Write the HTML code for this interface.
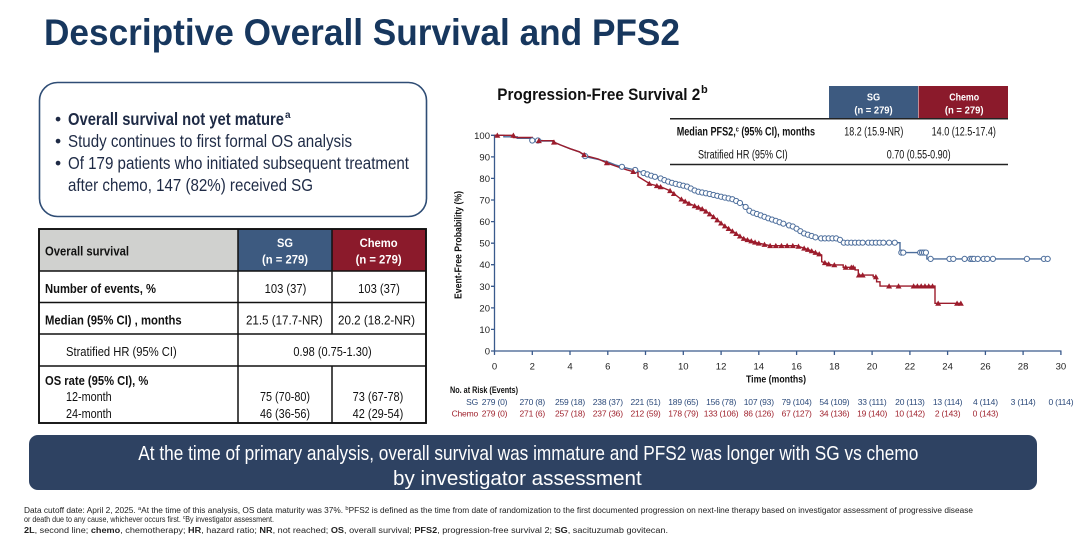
<!DOCTYPE html>
<html><head><meta charset="utf-8"><style>html,body{margin:0;padding:0;background:#fff}svg{display:block}text{font-family:"Liberation Sans",Arial,sans-serif}</style></head><body>
<svg id="s" xmlns="http://www.w3.org/2000/svg" width="1080" height="538" viewBox="0 0 1080 538">
<rect width="1080" height="538" fill="#fff"/>
<text x="44" y="45" font-size="37.5" font-weight="bold" fill="#17375e" textLength="636" lengthAdjust="spacingAndGlyphs">Descriptive Overall Survival and PFS2</text>

<!-- bullet box -->
<rect x="39.5" y="82.5" width="387" height="134" rx="18" fill="none" stroke="#2f4d75" stroke-width="1.6"/>
<g fill="#1e2a45" font-size="17.5">
<text x="55" y="125">•</text><text x="55" y="147">•</text><text x="55" y="169">•</text>
<text x="68" y="125" font-weight="bold" textLength="216" lengthAdjust="spacingAndGlyphs">Overall survival not yet mature</text>
<text x="285" y="118" font-size="10" font-weight="bold">a</text>
<text x="68" y="147" textLength="284" lengthAdjust="spacingAndGlyphs">Study continues to first formal OS analysis</text>
<text x="68" y="169" textLength="341" lengthAdjust="spacingAndGlyphs">Of 179 patients who initiated subsequent treatment</text>
<text x="68" y="191" textLength="245" lengthAdjust="spacingAndGlyphs">after chemo, 147 (82%) received SG</text>
</g>

<!-- left table -->
<rect x="39" y="229" width="199" height="42" fill="#d0d1cf"/>
<rect x="238" y="229" width="94" height="42" fill="#3d5a80"/>
<rect x="332" y="229" width="94" height="42" fill="#8b1a2b"/>
<g stroke="#111" stroke-width="1.5" fill="none">
<rect x="39" y="229" width="387" height="194" stroke-width="1.9"/>
<line x1="39" y1="271" x2="426" y2="271"/>
<line x1="39" y1="302.5" x2="426" y2="302.5"/>
<line x1="39" y1="334" x2="426" y2="334"/>
<line x1="39" y1="366" x2="426" y2="366"/>
<line x1="238" y1="229" x2="238" y2="423"/>
<line x1="332" y1="229" x2="332" y2="334"/>
<line x1="332" y1="366" x2="332" y2="423"/>
</g>
<g font-size="12.5" fill="#111">
<text x="45" y="255.5" font-weight="bold" textLength="84" lengthAdjust="spacingAndGlyphs">Overall survival</text>
<g fill="#fff" font-weight="bold" font-size="12" text-anchor="middle">
<text x="285" y="247" textLength="16" lengthAdjust="spacingAndGlyphs">SG</text>
<text x="285" y="263.5" textLength="46" lengthAdjust="spacingAndGlyphs">(n = 279)</text>
<text x="378.6" y="247" textLength="38" lengthAdjust="spacingAndGlyphs">Chemo</text>
<text x="378.6" y="263.5" textLength="46" lengthAdjust="spacingAndGlyphs">(n = 279)</text>
</g>
<text x="45" y="292.8" font-weight="bold" textLength="111" lengthAdjust="spacingAndGlyphs">Number of events, %</text>
<text x="285.5" y="292.8" text-anchor="middle" textLength="41.7" lengthAdjust="spacingAndGlyphs">103 (37)</text>
<text x="379" y="292.8" text-anchor="middle" textLength="41.7" lengthAdjust="spacingAndGlyphs">103 (37)</text>
<text x="45" y="324.5" font-weight="bold" textLength="136.7" lengthAdjust="spacingAndGlyphs">Median (95% CI) , months</text>
<text x="284.3" y="324.5" text-anchor="middle" textLength="76.7" lengthAdjust="spacingAndGlyphs">21.5 (17.7-NR)</text>
<text x="376.5" y="324.5" text-anchor="middle" textLength="77" lengthAdjust="spacingAndGlyphs">20.2 (18.2-NR)</text>
<text x="66" y="356.2" textLength="110.7" lengthAdjust="spacingAndGlyphs">Stratified HR (95% CI)</text>
<text x="332.5" y="356.2" text-anchor="middle" textLength="78.3" lengthAdjust="spacingAndGlyphs">0.98 (0.75-1.30)</text>
<text x="45" y="385.2" font-weight="bold" textLength="103.3" lengthAdjust="spacingAndGlyphs">OS rate (95% CI), %</text>
<text x="66" y="401.2" textLength="45.7" lengthAdjust="spacingAndGlyphs">12-month</text>
<text x="66" y="417.8" textLength="45.7" lengthAdjust="spacingAndGlyphs">24-month</text>
<text x="285" y="401.2" text-anchor="middle" textLength="50" lengthAdjust="spacingAndGlyphs">75 (70-80)</text>
<text x="285" y="417.8" text-anchor="middle" textLength="50" lengthAdjust="spacingAndGlyphs">46 (36-56)</text>
<text x="378" y="401.2" text-anchor="middle" textLength="50.7" lengthAdjust="spacingAndGlyphs">73 (67-78)</text>
<text x="378" y="417.8" text-anchor="middle" textLength="50.7" lengthAdjust="spacingAndGlyphs">42 (29-54)</text>
</g>

<!-- chart title & PFS2 table -->
<text x="497.3" y="100" font-size="17" font-weight="bold" fill="#111" textLength="203" lengthAdjust="spacingAndGlyphs">Progression-Free Survival 2</text>
<text x="701" y="93" font-size="11" font-weight="bold" fill="#111">b</text>
<rect x="829" y="86" width="89" height="32.5" fill="#3d5a80"/>
<rect x="918.5" y="86" width="89.5" height="32.5" fill="#8b1a2b"/>
<g fill="#fff" font-weight="bold" font-size="10.5" text-anchor="middle">
<text x="873.5" y="100.5" textLength="13.3" lengthAdjust="spacingAndGlyphs">SG</text>
<text x="873.5" y="113.5" textLength="38.3" lengthAdjust="spacingAndGlyphs">(n = 279)</text>
<text x="964.2" y="100.5" textLength="30" lengthAdjust="spacingAndGlyphs">Chemo</text>
<text x="964.2" y="113.5" textLength="38.7" lengthAdjust="spacingAndGlyphs">(n = 279)</text>
</g>
<line x1="670" y1="118.8" x2="1008" y2="118.8" stroke="#222" stroke-width="1.5"/>
<line x1="670" y1="164.5" x2="1008" y2="164.5" stroke="#222" stroke-width="1.5"/>
<g font-size="11.5" fill="#111">
<text x="676.7" y="135.5" font-weight="bold" textLength="138.3" lengthAdjust="spacingAndGlyphs">Median PFS2,<tspan font-size="7" dy="-4">c</tspan><tspan dy="4"> (95% CI), months</tspan></text>
<text x="873.8" y="135.5" text-anchor="middle" textLength="59" lengthAdjust="spacingAndGlyphs">18.2 (15.9-NR)</text>
<text x="963.8" y="135.5" text-anchor="middle" textLength="64.3" lengthAdjust="spacingAndGlyphs">14.0 (12.5-17.4)</text>
<text x="698" y="158.3" textLength="89.7" lengthAdjust="spacingAndGlyphs">Stratified HR (95% CI)</text>
<text x="918.7" y="158.3" text-anchor="middle" textLength="64" lengthAdjust="spacingAndGlyphs">0.70 (0.55-0.90)</text>
</g>

<!-- axes -->
<g stroke="#3a5a8c" stroke-width="1.3" fill="none">
<line x1="494.5" y1="134.8" x2="494.5" y2="351"/>
<line x1="494.5" y1="351" x2="1061.5" y2="351"/>
<path d="M491,135.3H494.5M491,156.9H494.5M491,178.4H494.5M491,200H494.5M491,221.6H494.5M491,243.2H494.5M491,264.7H494.5M491,286.3H494.5M491,307.9H494.5M491,329.4H494.5M491,351H494.5"/>
<path d="M494.5,351V355M532.3,351V355M570,351V355M607.8,351V355M645.5,351V355M683.3,351V355M721.1,351V355M758.8,351V355M796.6,351V355M834.4,351V355M872.1,351V355M909.9,351V355M947.6,351V355M985.4,351V355M1023.1,351V355M1060.9,351V355"/>
</g>
<g font-size="9.5" fill="#222" text-anchor="end">
<text x="490" y="138.8">100</text><text x="490" y="160.4">90</text><text x="490" y="181.9">80</text><text x="490" y="203.5">70</text><text x="490" y="225.1">60</text><text x="490" y="246.7">50</text><text x="490" y="268.2">40</text><text x="490" y="289.8">30</text><text x="490" y="311.4">20</text><text x="490" y="332.9">10</text><text x="490" y="354.5">0</text>
</g>
<g font-size="9.5" fill="#222" text-anchor="middle">
<text x="494.5" y="369.5">0</text><text x="532.3" y="369.5">2</text><text x="570" y="369.5">4</text><text x="607.8" y="369.5">6</text><text x="645.5" y="369.5">8</text><text x="683.3" y="369.5">10</text><text x="721.1" y="369.5">12</text><text x="758.8" y="369.5">14</text><text x="796.6" y="369.5">16</text><text x="834.4" y="369.5">18</text><text x="872.1" y="369.5">20</text><text x="909.9" y="369.5">22</text><text x="947.6" y="369.5">24</text><text x="985.4" y="369.5">26</text><text x="1023.1" y="369.5">28</text><text x="1060.9" y="369.5">30</text>
</g>
<text x="746" y="382.5" font-size="10" font-weight="bold" fill="#111" textLength="60" lengthAdjust="spacingAndGlyphs">Time (months)</text>
<text transform="translate(461.5,245) rotate(-90)" text-anchor="middle" font-size="10" font-weight="bold" fill="#111" textLength="108" lengthAdjust="spacingAndGlyphs">Event-Free Probability (%)</text>

<!-- curves -->
<path id="pb" fill="none" stroke="#4d6e9c" stroke-width="1.4" d="M494.5,135.3 H503.9 V136.8 H517.2 V138.3 H530.4 V140.5 H541.7 V141.1 H553 V141.8 L560.6,145 L570,148.7 L579.5,151.9 L586.1,156.9 L598.3,159.5 L606.8,161.6 L615.3,164.9 L621.9,166.8 L628.5,168.5 L635.2,170 L646.5,174.1 L653.1,176.3 L660.6,178.4 L666.3,181 L673.9,183.4 L687.1,186.6 L696.5,191.4 L709.7,194 L723,197.2 L733.3,199.4 L743.7,205 L750.3,211.7 L760,215.1 L770.1,219 L773.9,220.1 L783.4,223.7 L793.7,226.8 L803.4,233.2 L811.7,236 L818.3,238.4 H840 V239.9 H841.9 V242.7 H900 V252.6 H926.9 V258.9 H1048.3"/>
<path id="pr" fill="none" stroke="#9c1c2c" stroke-width="1.4" d="M494.5,135.3 H513.4 V137.5 H532.3 V140.7 H553 V141.8 L560.6,145 L570,148.7 L579.5,151.9 L586.1,155.8 L598.3,159 L607.8,163.3 L617.2,166.6 L626.7,169.8 L636.7,172.6 H638 V176.5 L650.1,184 L660.1,186.6 L670.1,190.7 L679.9,198.3 L689.9,203.9 L703.3,209.3 L713.3,216.6 L723.3,225 L733.3,231.7 L743.3,238.4 L756.7,242.7 L770.1,245.7 H796.6 L809.8,250.1 L821.7,255 V261.7 L831.7,264.9 H843.2 V267.3 H855.1 V269.9 H858.3 V275.1 H873.2 V276.8 H876.6 V281.8 H880 V286.1 H935 V303.3 H961.6"/>
<g id="mk"></g>

<!-- risk table -->
<text x="450" y="393" font-size="9" font-weight="bold" fill="#111" textLength="68" lengthAdjust="spacingAndGlyphs">No. at Risk (Events)</text>
<g font-size="8.5" fill="#2c4a7a" text-anchor="middle" letter-spacing="-0.2">
<text x="478" y="405" text-anchor="end">SG</text>
<text x="494.5" y="405">279 (0)</text><text x="532.3" y="405">270 (8)</text><text x="570" y="405">259 (18)</text><text x="607.8" y="405">238 (37)</text><text x="645.5" y="405">221 (51)</text><text x="683.3" y="405">189 (65)</text><text x="721.1" y="405">156 (78)</text><text x="758.8" y="405">107 (93)</text><text x="796.6" y="405">79 (104)</text><text x="834.4" y="405">54 (109)</text><text x="872.1" y="405">33 (111)</text><text x="909.9" y="405">20 (113)</text><text x="947.6" y="405">13 (114)</text><text x="985.4" y="405">4 (114)</text><text x="1023.1" y="405">3 (114)</text><text x="1060.9" y="405">0 (114)</text>
</g>
<g font-size="8.5" fill="#a0242f" text-anchor="middle" letter-spacing="-0.2">
<text x="478" y="416.5" text-anchor="end">Chemo</text>
<text x="494.5" y="416.5">279 (0)</text><text x="532.3" y="416.5">271 (6)</text><text x="570" y="416.5">257 (18)</text><text x="607.8" y="416.5">237 (36)</text><text x="645.5" y="416.5">212 (59)</text><text x="683.3" y="416.5">178 (79)</text><text x="721.1" y="416.5">133 (106)</text><text x="758.8" y="416.5">86 (126)</text><text x="796.6" y="416.5">67 (127)</text><text x="834.4" y="416.5">34 (136)</text><text x="872.1" y="416.5">19 (140)</text><text x="909.9" y="416.5">10 (142)</text><text x="947.6" y="416.5">2 (143)</text><text x="985.4" y="416.5">0 (143)</text>
</g>

<!-- banner -->
<rect x="29" y="435" width="1008" height="55" rx="9" fill="#2e4262"/>
<text x="138.3" y="460" font-size="20.5" fill="#fff" textLength="780" lengthAdjust="spacingAndGlyphs">At the time of primary analysis, overall survival was immature and PFS2 was longer with SG vs chemo</text>
<text x="393" y="485" font-size="20.5" fill="#fff" textLength="248.7" lengthAdjust="spacingAndGlyphs">by investigator assessment</text>

<!-- footnotes -->
<g font-size="8" fill="#222">
<text x="24" y="513" textLength="949" lengthAdjust="spacingAndGlyphs">Data cutoff date: April 2, 2025. <tspan font-size="5.5" dy="-3">a</tspan><tspan dy="3">At the time of this analysis, OS data maturity was 37%. </tspan><tspan font-size="5.5" dy="-3">b</tspan><tspan dy="3">PFS2 is defined as the time from date of randomization to the first documented progression on next-line therapy based on investigator assessment of progressive disease</tspan></text>
<text x="24" y="522" textLength="250" lengthAdjust="spacingAndGlyphs">or death due to any cause, whichever occurs first. <tspan font-size="5.5" dy="-3">c</tspan><tspan dy="3">By investigator assessment.</tspan></text>
<text x="24" y="533" textLength="644" lengthAdjust="spacingAndGlyphs"><tspan font-weight="bold">2L</tspan>, second line; <tspan font-weight="bold">chemo</tspan>, chemotherapy; <tspan font-weight="bold">HR</tspan>, hazard ratio; <tspan font-weight="bold">NR</tspan>, not reached; <tspan font-weight="bold">OS</tspan>, overall survival; <tspan font-weight="bold">PFS2</tspan>, progression-free survival 2; <tspan font-weight="bold">SG</tspan>, sacituzumab govitecan.</text>
</g>
</svg>
<script>
(function(){
var ns="http://www.w3.org/2000/svg";
function verts(d){var pts=[],x=0,y=0,re=/([MHVL])([^MHVL]*)/g,m;while((m=re.exec(d))){var a=m[2].trim().split(/[ ,]+/).map(Number);if(m[1]=='M'||m[1]=='L'){x=a[0];y=a[1];}else if(m[1]=='H'){x=a[0];}else{y=a[0];}pts.push([x,y]);}return pts;}
function yAt(p,x){for(var i=1;i<p.length;i++){var a=p[i-1],b=p[i];if(b[0]>a[0]&&x>=a[0]&&x<=b[0]){return a[1]+(b[1]-a[1])*(x-a[0])/(b[0]-a[0]);}}return p[p.length-1][1];}
function X(t){return 494.5+18.88*t;}
var g=document.getElementById('mk');
var pb=verts(document.getElementById('pb').getAttribute('d'));
var pr=verts(document.getElementById('pr').getAttribute('d'));
var bt=[2.0,2.3,4.8,6.75,7.45,7.9,8.1,8.3,8.5,8.8,9.0,9.2,9.4,9.6,9.8,10.0,10.2,10.4,10.6,10.8,11.0,11.2,11.4,11.6,11.8,12.0,12.2,12.4,12.6,12.8,13.0,13.3,13.5,13.7,13.9,14.1,14.3,14.5,14.7,14.9,15.1,15.3,15.6,15.8,16.0,16.2,16.4,16.6,16.8,17.0,17.3,17.5,17.7,17.9,18.1,18.3,18.5,18.7,18.9,19.1,19.3,19.5,19.8,20.0,20.2,20.4,20.6,20.9,21.2,21.55,21.65,22.55,22.65,22.75,22.85,23.1,24.1,24.3,24.9,25.2,25.3,25.4,25.6,25.9,26.1,26.4,28.2,29.1,29.3];
var rt=[0.15,1.0,2.35,3.15,4.75,5.95,7.35,8.2,8.6,8.8,9.3,9.5,9.9,10.1,10.3,10.6,10.8,11.0,11.2,11.4,11.6,11.8,12.0,12.2,12.4,12.6,12.8,13.0,13.2,13.4,13.6,13.8,14.0,14.3,14.6,14.9,15.2,15.5,15.8,16.1,16.4,16.6,16.8,17.0,17.2,17.5,17.7,18.0,18.6,18.9,19.0,19.3,19.5,20.2,20.9,21.4,22.2,22.4,22.6,22.8,23.0,23.2,23.5,24.5,24.7];
bt.forEach(function(t){var x=X(t),y=yAt(pb,x);var c=document.createElementNS(ns,'circle');c.setAttribute('cx',x);c.setAttribute('cy',y);c.setAttribute('r',2.6);c.setAttribute('fill','#fff');c.setAttribute('stroke','#4d6e9c');c.setAttribute('stroke-width','1');g.appendChild(c);});
rt.forEach(function(t){var x=X(t),y=yAt(pr,x);var p=document.createElementNS(ns,'polygon');p.setAttribute('points',(x-3)+','+(y+2.4)+' '+(x+3)+','+(y+2.4)+' '+x+','+(y-2.8));p.setAttribute('fill','#9c1c2c');g.appendChild(p);});
})();
</script>
</body></html>
